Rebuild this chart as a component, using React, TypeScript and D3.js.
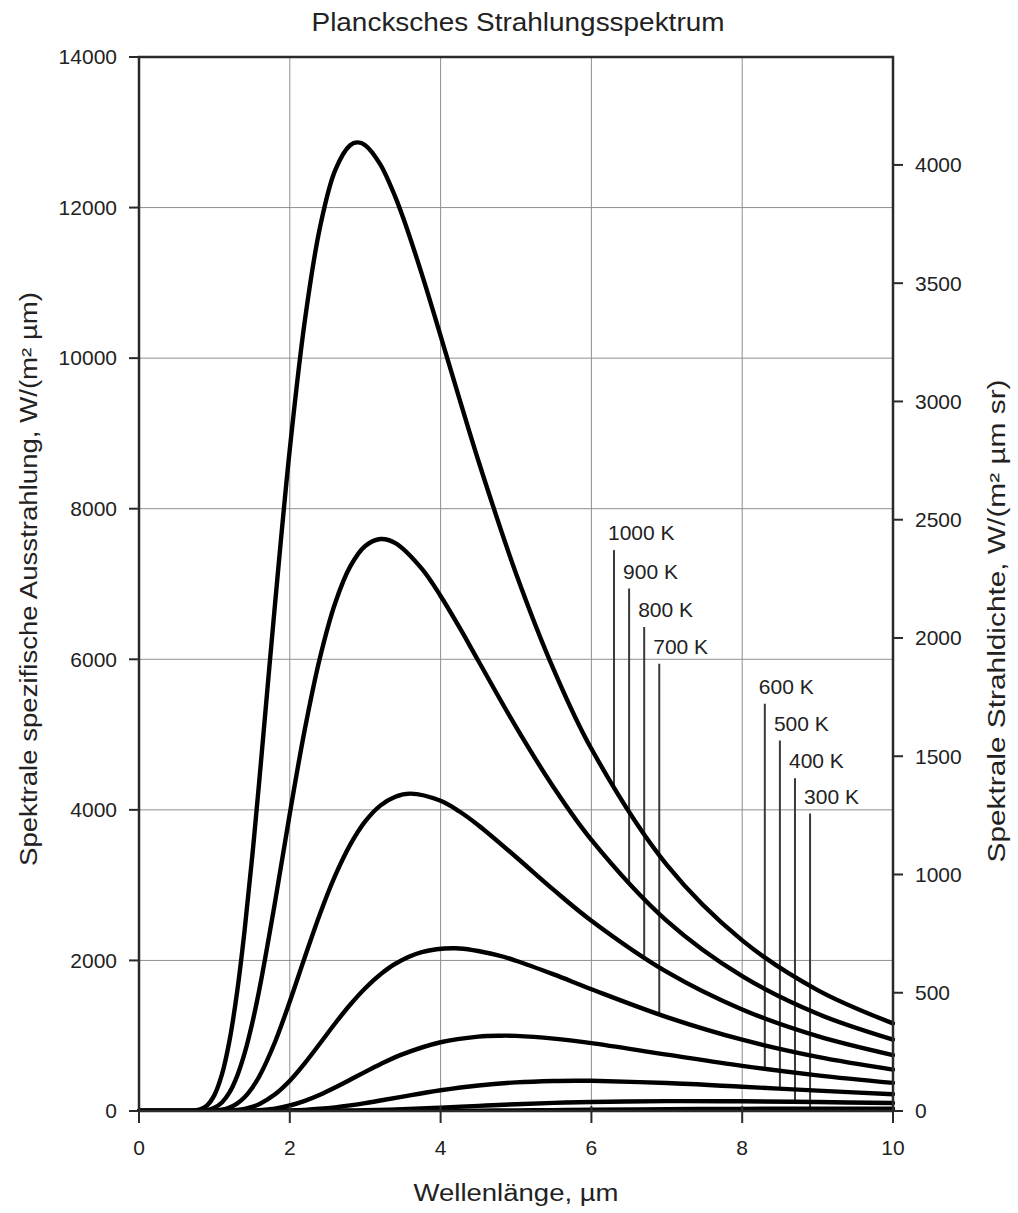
import React from "react";
import * as d3 from "d3";

// Spectral exitance curves, W/(m² µm): [wavelength µm, value]
const k1000: [number, number][] = [[0,0],[0.5,0],[0.7,3],[0.8,18],[0.9,72],[1.0,211],[1.1,485],[1.2,933],[1.3,1572],[1.4,2394],[1.5,3364],[1.6,4438],[1.8,6690],[2.0,8789],[2.2,10503],[2.4,11736],[2.6,12492],[2.8,12828],[2.9,12866],[3.0,12829],[3.2,12574],[3.4,12140],[3.5,11874],[3.75,11120],[4.0,10296],[4.25,9459],[4.5,8641],[5.0,7140],[5.5,5863],[6.0,4811],[7.0,3269],[8.0,2266],[9.0,1606],[10,1164]];
const k900: [number, number][] = [[0,0],[0.6,0],[0.8,2],[0.9,12],[1.0,43],[1.1,113],[1.2,246],[1.3,460],[1.4,764],[1.5,1159],[1.6,1634],[1.8,2752],[2.0,3950],[2.2,5074],[2.4,6021],[2.6,6742],[2.8,7230],[3.0,7504],[3.2,7597],[3.4,7544],[3.75,7205],[4.0,6841],[4.25,6423],[4.5,5981],[5.0,5102],[5.5,4298],[6.0,3602],[7.0,2526],[8.0,1791],[9.0,1291],[10,948]];
const k800: [number, number][] = [[0,0],[0.7,0],[0.9,1],[1.0,6],[1.1,18],[1.2,47],[1.3,99],[1.4,183],[1.5,306],[1.6,468],[1.8,907],[2.0,1454],[2.2,2045],[2.4,2617],[2.6,3122],[2.8,3535],[3.0,3846],[3.2,4056],[3.4,4175],[3.6,4216],[4.0,4120],[4.25,3978],[4.5,3796],[5.0,3374],[5.5,2937],[6.0,2528],[7.0,1847],[8.0,1348],[9.0,994],[10,742]];
const k700: [number, number][] = [[0,0],[0.9,0],[1.1,2],[1.2,5],[1.3,14],[1.4,29],[1.5,55],[1.6,94],[1.8,218],[2.0,402],[2.2,636],[2.4,897],[2.6,1162],[2.8,1411],[3.0,1631],[3.2,1813],[3.4,1956],[3.75,2110],[4.2,2161],[4.75,2071],[5.0,1996],[5.5,1814],[6.0,1618],[7.0,1248],[8.0,947],[9.0,719],[10,550]];
const k600: [number, number][] = [[0,0],[1.0,0],[1.2,0.3],[1.4,2.5],[1.6,11],[1.8,32],[2.0,73],[2.2,134],[2.4,215],[2.6,311],[2.8,415],[3.0,520],[3.2,621],[3.5,755],[4.0,913],[4.5,988],[4.8,1000],[5.0,998],[5.5,962],[6.0,901],[7.0,749],[8.0,600],[9.0,474],[10,374]];
const k500: [number, number][] = [[0,0],[1.3,0],[1.6,0.6],[1.8,2.3],[2.0,6.6],[2.2,15],[2.4,29],[2.6,49],[2.8,75],[3.0,105],[3.2,139],[3.5,192],[4.0,275],[4.5,339],[5.0,380],[5.5,399],[5.8,402],[6.0,401],[7.0,371],[8.0,322],[9.0,270],[10,223]];
const k400: [number, number][] = [[0,0],[1.5,0],[2.0,0.2],[2.4,1.5],[2.8,5.7],[3.0,9.6],[3.5,24.5],[4.0,45.4],[4.5,68.5],[5.0,90],[5.5,107.5],[6.0,120.2],[7.0,131.4],[7.2,131.7],[8.0,128.8],[9.0,118.6],[10,105.4]];
const k300: [number, number][] = [[0,0],[2.0,0],[3.0,0.2],[3.5,0.8],[4.0,2.3],[4.5,4.8],[5.0,8.2],[5.5,12.1],[6.0,16.3],[7.0,23.6],[8.0,28.5],[9.0,30.9],[9.7,31.3],[10,31.2]];

const series = [k1000, k900, k800, k700, k600, k500, k400, k300];

// Leader labels
const labelNames = ["1000 K", "900 K", "800 K", "700 K", "600 K", "500 K", "400 K", "300 K"];
const labelX = [6.3, 6.5, 6.7, 6.9, 8.3, 8.5, 8.7, 8.9];
const labelTop = [7450, 6940, 6430, 5940, 5410, 4920, 4420, 3950];
const labelEnd = [4278, 3014, 2030, 1282, 559, 296, 122, 31];

const xTicks = [0, 2, 4, 6, 8, 10];
const yTicks = [0, 2000, 4000, 6000, 8000, 10000, 12000, 14000];
const yRightTicks = [0, 500, 1000, 1500, 2000, 2500, 3000, 3500, 4000];

const title = "Plancksches Strahlungsspektrum";
const xTitle = "Wellenlänge, µm";
const yTitle = "Spektrale spezifische Ausstrahlung, W/(m² µm)";
const yRightTitle = "Spektrale Strahldichte, W/(m² µm sr)";

const W = 1018;
const H = 1213;
const L = 139, R = 893, T = 57, B = 1111;
const FONT = "'Liberation Sans', Arial, Helvetica, sans-serif";

export default function App() {
  const x = d3.scaleLinear().domain([0, 10]).range([L, R]);
  const y = d3.scaleLinear().domain([0, 14000]).range([B, T]);
  const yR = d3.scaleLinear().domain([0, 14000 / Math.PI]).range([B, T]);
  const line = d3
    .line<[number, number]>()
    .x((d) => x(d[0]))
    .y((d) => y(d[1]))
    .curve(d3.curveCatmullRom.alpha(0.5));

  const axisColor = "#2a2a2a";
  const gridColor = "#8f8f8f";

  return (
    <svg
      width={W}
      height={H}
      style={{ position: "absolute", left: 0, top: 0, background: "#fff" }}
      fontFamily={FONT}
    >
      <rect x={0} y={0} width={W} height={H} fill="#fff" />
      <defs>
        <clipPath id="plotClip">
          <rect x={L - 2} y={T} width={R - L + 4} height={B - T + 1} />
        </clipPath>
      </defs>
      <text x={518} y={31} fontSize={25} textAnchor="middle" fill="#222" textLength={413} lengthAdjust="spacingAndGlyphs">
        {title}
      </text>

      {/* grid */}
      {xTicks.slice(1, -1).map((t) => (
        <line key={"gx" + t} x1={x(t)} x2={x(t)} y1={T} y2={B} stroke={gridColor} strokeWidth={1} />
      ))}
      {yTicks.slice(1, -1).map((t) => (
        <line key={"gy" + t} x1={L} x2={R} y1={y(t)} y2={y(t)} stroke={gridColor} strokeWidth={1} />
      ))}

      {/* leader lines */}
      {labelNames.map((n, i) => (
        <g key={n}>
          <line
            x1={x(labelX[i])}
            x2={x(labelX[i])}
            y1={y(labelTop[i])}
            y2={y(labelEnd[i])}
            stroke="#3a3a3a"
            strokeWidth={2}
          />
          <text x={x(labelX[i]) - 6} y={y(labelTop[i]) - 10} fontSize={21} fill="#222">
            {n}
          </text>
        </g>
      ))}

      {/* curves */}
      <g clipPath="url(#plotClip)">
        {series.map((s, i) => (
          <path key={i} d={line(s) || ""} fill="none" stroke="#000" strokeWidth={4.4} strokeLinejoin="round" strokeLinecap="round" />
        ))}
      </g>

      {/* frame */}
      <rect x={L} y={T} width={R - L} height={B - T} fill="none" stroke={axisColor} strokeWidth={2.5} />

      {/* left ticks */}
      {yTicks.map((t) => (
        <g key={"ly" + t}>
          <line x1={L - 10} x2={L} y1={y(t)} y2={y(t)} stroke={axisColor} strokeWidth={2} />
          <text x={117} y={y(t)} dy="0.35em" fontSize={21} textAnchor="end" fill="#222">
            {t}
          </text>
        </g>
      ))}
      {/* right ticks */}
      {yRightTicks.map((t) => (
        <g key={"ry" + t}>
          <line x1={R} x2={R + 10} y1={yR(t)} y2={yR(t)} stroke={axisColor} strokeWidth={2} />
          <text x={915} y={yR(t)} dy="0.35em" fontSize={21} textAnchor="start" fill="#222">
            {t}
          </text>
        </g>
      ))}
      {/* bottom ticks */}
      {xTicks.map((t) => (
        <g key={"bx" + t}>
          <line x1={x(t)} x2={x(t)} y1={B - 5} y2={B + 12} stroke={axisColor} strokeWidth={2} />
          <text x={x(t)} y={1155} fontSize={21} textAnchor="middle" fill="#222">
            {t}
          </text>
        </g>
      ))}

      <text x={516} y={1201} fontSize={23} textAnchor="middle" fill="#222" textLength={205} lengthAdjust="spacingAndGlyphs">
        {xTitle}
      </text>
      <text
        transform={`translate(37,579) rotate(-90)`}
        fontSize={23}
        textAnchor="middle"
        fill="#222"
        textLength={574}
        lengthAdjust="spacingAndGlyphs"
      >
        {yTitle}
      </text>
      <text
        transform={`translate(1005,621) rotate(-90)`}
        fontSize={23}
        textAnchor="middle"
        fill="#222"
        textLength={483}
        lengthAdjust="spacingAndGlyphs"
      >
        {yRightTitle}
      </text>
    </svg>
  );
}
